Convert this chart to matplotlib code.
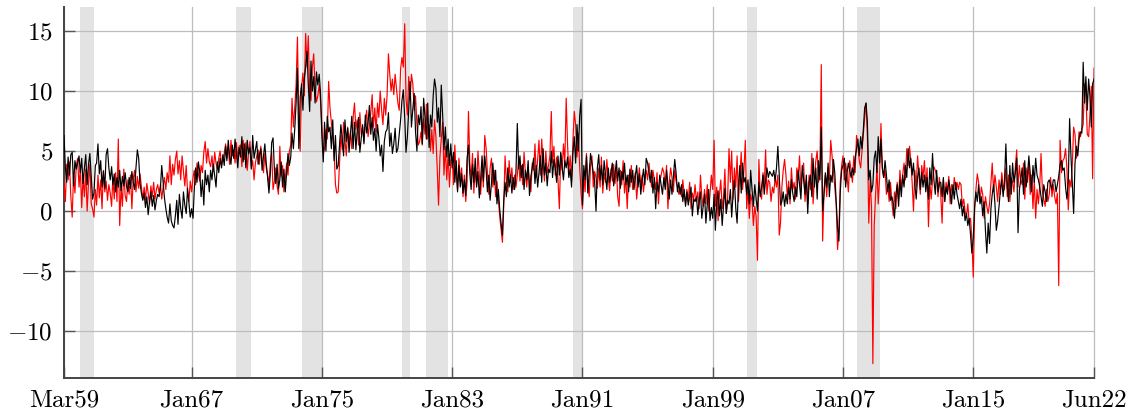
import pandas as pd
import matplotlib
matplotlib.use('Agg')
import matplotlib.pyplot as plt

# Series mensais, Mar/1959 a Jun/2022 (uma linha por ano)
black_vals = [
    6.3, 3.6, 2.4, 4.5, 3.0, 4.7, 4.9, 2.1, 4.2, 3.5,
    4.0, 4.6, 3.2, 4.4, 2.3, 3.6, 4.7, 2.2, 3.9, 4.8, 2.8, 1.0,
    1.5, 3.8, 4.0, 5.6, 3.1, 4.2, 2.0, 3.3, 1.9, 4.7, 5.2, 3.6,
    2.6, 3.7, 2.2, 3.1, 1.6, 2.8, 2.0, 3.4, 1.7, 2.9, 2.1, 3.2,
    2.1, 1.6, 2.8, 1.9, 3.3, 2.4, 1.8, 3.6, 5.1, 4.4, 2.3, 1.5,
    0.9, 1.5, 0.3, 1.2, -0.3, 0.8, 1.6, 0.4, 1.3, 0.1, 0.9, 1.4,
    1.2, 2.0, 3.8, 2.4, 1.1, 0.2, -0.5, -1.0, 0.6, -0.8, -1.2, -1.4,
    -0.4, 0.9, -1.1, 1.4, 0.2, -0.6, 1.6, 0.5, -0.2, 1.9, 0.7, -0.5,
    0.2, -0.6, 1.8, 3.6, 2.4, 4.1, 3.3, 1.2, 2.6, 0.5, 3.4, 2.2,
    3.0, 1.6, 3.4, 2.6, 3.9, 2.9, 2.0, 4.1, 3.2, 4.4, 3.6, 4.7,
    3.8, 5.4, 4.2, 5.9, 4.6, 3.9, 5.5, 4.4, 6.0, 4.8, 3.6, 5.3,
    4.5, 6.2, 4.1, 5.6, 3.6, 5.9, 4.8, 5.3, 3.5, 6.3, 4.4, 5.1,
    5.8, 3.9, 4.7, 5.2, 3.4, 4.6, 5.6, 4.0, 2.8, 1.5, 3.1, 5.7,
    6.1, 3.4, 2.3, 3.9, 1.9, 2.6, 4.1, 2.0, 3.5, 1.6, 3.2, 4.8,
    3.8, 4.5, 6.5, 5.2, 6.8, 9.0, 11.9, 5.2, 9.5, 10.6, 8.4, 11.0,
    12.0, 13.3, 10.6, 8.3, 12.5, 10.0, 11.2, 9.0, 11.6, 10.5, 11.4, 9.8,
    6.2, 4.1, 7.4, 5.0, 7.9, 6.6, 7.0, 5.2, 7.6, 4.2, 6.3, 3.5,
    3.8, 5.5, 7.2, 6.0, 4.6, 7.6, 5.8, 6.9, 4.9, 6.4, 7.9, 5.2,
    7.4, 5.1, 6.6, 7.8, 4.9, 6.1, 7.2, 5.6, 8.0, 6.5, 7.3, 8.8,
    6.4, 7.8, 5.9, 6.9, 5.0, 7.2, 6.1, 4.6, 5.5, 3.3, 5.8, 6.6,
    6.8, 8.2, 5.4, 6.5, 4.8, 5.6, 6.9, 4.9, 5.2, 6.4, 7.6, 9.2,
    10.1, 7.8, 4.9, 6.2, 8.4, 10.8, 7.0, 8.5, 9.8, 6.6, 5.0, 8.0,
    7.2, 8.7, 5.6, 9.4, 7.8, 6.0, 9.0, 5.3, 8.0, 7.0, 9.6, 11.0,
    10.2, 7.4, 8.6, 6.2, 10.5, 8.0, 5.1, 7.0, 4.5, 6.0, 3.8, 5.6,
    3.6, 4.9, 2.4, 4.2, 1.6, 3.8, 2.0, 3.1, 1.5, 2.6, 1.3, 4.4,
    5.5, 3.1, 1.8, 3.9, 2.4, 4.4, 2.0, 3.3, 1.1, 2.7, 4.6, 2.5,
    4.6, 3.4, 1.6, 3.0, 0.9, 2.4, 4.0, 2.2, 3.4, 0.6, 1.8, 0.2,
    -1.0, -2.0, 0.8, 2.4, 1.2, 3.6, 2.0, 3.0, 1.5, 2.8, 1.8, 3.2,
    7.3, 3.5, 4.6, 2.8, 3.9, 1.8, 3.4, 2.6, 4.2, 1.3, 2.9, 3.6,
    4.4, 2.3, 3.8, 2.0, 3.2, 4.6, 2.4, 5.2, 3.0, 4.0, 2.1, 3.5,
    3.2, 5.0, 2.8, 4.3, 3.6, 2.4, 4.6, 3.0, 4.9, 3.7, 2.6, 4.2,
    3.6, 4.5, 2.8, 3.5, 2.0, 4.8, 6.2, 4.0, 7.2, 5.0, 8.0, 9.3,
    0.5, 3.8, 2.6, 4.6, 1.5, 3.2, 4.8, 4.0, 3.2, 2.5, 0.0, 3.6,
    4.7, 2.6, 3.8, 2.2, 4.2, 3.0, 1.8, 3.6, 2.4, 3.2, 4.0, 2.1,
    3.1, 4.2, 2.5, 3.6, 1.9, 3.3, 2.6, 4.0, 2.2, 3.0, 1.6, 3.5,
    2.4, 3.4, 1.8, 2.9, 3.8, 2.0, 3.1, 1.4, 2.6, 3.5, 2.2, 4.4,
    4.0, 3.2, 2.4, 3.4, 1.5, 2.8, 0.2, 2.4, 1.6, 3.0, 2.2, 1.4,
    2.8, 1.8, 3.4, 2.2, 1.0, 2.6, 1.4, 2.9, 4.3, 3.2, 1.6, 2.4,
    1.4, 2.2, 0.8, 1.8, 0.4, 1.6, 0.5, 1.2, 2.0, -0.4, 1.0, 0.8,
    1.2, -0.3, 0.8, 1.6, -0.6, 0.4, 1.4, -1.0, 0.6, 1.8, -0.8, 0.3,
    -0.6, 1.4, -1.6, 0.8, 1.7, -0.4, 1.0, -1.2, 0.5, 1.9, -0.2, 0.9,
    0.6, 1.8, -0.5, 1.4, 2.6, 0.2, -1.0, 2.2, 3.8, 1.5, 4.0, 2.4,
    2.8, 1.4, 2.6, 0.6, 3.4, 1.8, 0.4, 2.2, 1.0, 0.0, 2.4, 1.2,
    2.0, 3.0, 1.4, 2.6, 3.6, 2.8, 3.3, 3.1, 2.9, 3.4, 2.5, 3.6,
    5.4, 3.0, 0.5, 0.8, 1.6, 0.4, 1.4, 0.6, 2.0, 1.0, 2.6, 1.5,
    0.8, 2.0, 1.2, 3.4, 2.2, 1.0, 3.8, 2.6, 1.4, 3.0, -0.2, 2.4,
    3.0, 1.2, 4.4, 2.0, 3.6, 1.0, 4.2, 2.6, 7.0, 0.0, 1.4, 3.2,
    2.0, 4.0, 1.2, 3.0, 2.4, 4.3, 3.2, 0.8, -1.3, -2.5, 1.6, 3.4,
    3.8, 4.4, 2.0, 3.2, 4.0, 3.4, 2.8, 3.6, 3.0, 4.4, 5.2, 6.0,
    4.6, 6.2, 5.2, 6.8, 8.6, 9.0, 7.4, 2.6, 3.4, 1.6, 2.2, 4.4,
    5.0, 3.2, 6.2, 4.0, 6.0, 3.6, 2.8, 4.2, 3.0, 1.6, 2.6, 0.9,
    1.2, 0.6, -0.6, 1.4, 2.2, 0.4, 2.6, 1.2, 3.0, 2.0, 3.8, 2.8,
    5.2, 3.6, 4.4, 3.0, 4.0, 2.2, 1.0, 2.8, 3.6, 1.8, 3.2, 2.0,
    3.0, 1.6, 2.8, 1.0, 3.6, 2.2, 4.8, 2.6, 1.4, 3.4, 1.6, 2.4,
    2.4, 1.2, 2.8, 0.8, 2.0, 1.4, 2.6, 1.8, 0.6, 2.2, 1.0, 2.4,
    1.4, 0.8, 0.2, 1.0, -0.4, 0.4, -0.8, -0.2, -1.2, -0.6, -2.0, -3.5,
    -2.2, 0.4, 1.6, 0.8, 2.2, 0.6, 1.2, -0.4, 0.8, -1.6, -3.5, -1.0,
    -2.7, 0.2, 1.4, 2.2, 0.6, -1.6, -0.8, 0.4, 1.8, 2.6, 1.2, 2.4,
    5.6, 2.2, 0.8, 3.8, 1.4, 4.0, 2.4, 3.2, 4.4, -1.8, 1.8, 2.6,
    3.6, 1.4, 4.2, 2.0, 3.0, 4.6, 3.2, 1.6, 3.8, 2.4, 4.4, 3.0,
    2.6, 2.0, 1.2, 0.4, 2.2, 1.6, 0.8, 2.4, 2.6, 2.2, 1.8, 2.6,
    2.6, 1.6, 2.2, 2.9, 3.9, 4.2, 3.4, 3.6, 2.0, 1.0, 2.4, 7.7,
    4.5, 2.2, -0.2, 4.0, 5.4, 4.6, 6.0, 6.6, 6.5, 12.4, 9.0, 11.2,
    8.4, 11.0, 9.6, 7.0, 10.6, 11.0,
]

red_vals = [
    2.4, 0.8, 3.9, 2.6, 4.1, 1.2, -0.5, 3.0, 1.5, 3.8,
    4.4, 2.0, 3.6, 0.3, 2.8, 1.2, 3.5, 0.0, 2.4, 3.9, 0.6, 0.2,
    -0.5, 1.8, 0.5, 3.0, 1.1, 2.6, 0.2, 3.4, 1.6, 2.5, 0.9, 2.2,
    1.5, 0.4, 2.8, 1.0, 3.2, 0.8, 6.0, -1.2, 2.1, 0.4, 3.5, 1.3,
    0.8, 2.6, 1.4, 3.0, 0.2, 2.7, 3.4, 1.6, 2.9, 1.9, 3.1, 2.0,
    1.0, 2.0, 0.9, 2.3, 1.5, 0.6, 2.1, 1.2, 2.4, 1.0, 1.8, 2.2,
    1.5, 2.2, 1.0, 2.0, 2.8, 1.8, 3.2, 2.4, 4.6, 2.2, 3.9, 3.0,
    4.3, 5.0, 3.1, 4.2, 2.6, 4.6, 3.3, 2.1, 3.8, 1.6, 0.8, 2.5,
    1.6, 2.8, 3.4, 2.2, 4.0, 3.1, 2.5, 3.8, 3.2, 4.9, 5.8, 4.0,
    5.2, 4.1, 3.7, 4.6, 3.3, 4.9, 4.0, 3.5, 4.4, 5.0, 3.8, 4.3,
    4.8, 5.6, 4.4, 5.3, 3.9, 5.9, 4.6, 5.1, 4.0, 5.7, 4.3, 5.4,
    5.5, 3.7, 5.9, 4.3, 5.7, 3.4, 4.9, 5.8, 3.6, 4.2, 2.6, 4.0,
    4.6, 5.1, 3.9, 5.4, 4.3, 3.2, 4.8, 3.6, 3.0, 2.2, 4.0, 4.9,
    1.8, 2.5, 3.6, 2.1, 1.4, 5.4, 2.9, 3.8, 1.6, 2.7, 4.0, 3.0,
    5.0, 5.5, 9.4, 7.0, 8.6, 10.5, 14.5, 7.5, 5.0, 10.3, 11.5, 9.6,
    14.8, 12.0, 14.6, 10.0, 9.2, 12.0, 13.1, 10.2, 9.1, 9.6, 10.5, 9.2,
    7.0, 4.8, 5.2, 6.8, 6.0, 10.8, 8.6, 7.4, 6.2, 5.0, 2.2, 1.5,
    1.6, 4.0, 6.3, 5.1, 7.4, 6.0, 4.6, 7.0, 5.6, 6.6, 5.2, 7.8,
    9.0, 6.8, 7.6, 5.5, 8.2, 6.4, 7.0, 5.8, 7.4, 8.4, 6.2, 7.1,
    8.2, 9.7, 7.0, 8.6, 6.6, 9.0, 7.8, 10.0, 8.4, 7.2, 9.4, 8.0,
    9.6, 13.1, 11.5, 10.0, 11.0, 9.7, 11.4, 10.2, 9.0, 8.4, 11.8, 12.8,
    12.0, 15.6, 9.4, 8.0, 11.2, 9.2, 11.4, 10.6, 8.4, 9.6, 7.2, 5.5,
    5.8, 6.6, 5.5, 7.7, 6.4, 8.9, 6.0, 7.2, 5.0, 6.8, 4.8, 7.6,
    6.2, 3.4, 0.5, 4.5, 6.0, 7.4, 3.0, 5.4, 2.6, 4.8, 2.0, 4.2,
    4.6, 2.2, 5.5, 3.0, 1.8, 4.4, 2.5, 3.6, 1.2, 3.0, 0.8, 2.4,
    8.3, 4.0, 2.6, 4.8, 1.5, 3.6, 2.2, 5.0, 3.0, 1.4, 3.8, 2.0,
    6.3, 5.2, 3.2, 1.4, 3.6, 4.4, 2.0, 3.4, 1.2, 2.5, 1.0, -0.4,
    -1.5, -2.6, 0.3, 4.6, 2.5, 1.6, 4.2, 2.4, 3.6, 1.8, 3.0, 2.0,
    3.0, 4.4, 2.5, 3.8, 2.2, 4.9, 3.2, 2.0, 3.6, 2.4, 1.6, 4.0,
    3.4, 5.6, 2.8, 4.3, 5.9, 3.0, 6.0, 4.0, 2.5, 5.0, 3.2, 3.8,
    4.6, 8.3, 4.0, 5.4, 3.0, 4.5, 2.6, 0.2, 4.8, 3.4, 5.6, 4.0,
    9.4, 5.5, 3.2, 4.6, 2.5, 5.8, 8.3, 7.2, 4.5, 6.5, 3.6, 1.5,
    0.2, 3.0, 1.6, 4.8, 2.4, 1.2, 3.8, 4.6, 2.0, 3.3, 2.8, 1.9,
    3.6, 2.0, 4.5, 1.5, 3.2, 2.4, 4.3, 2.8, 1.7, 3.5, 2.5, 3.9,
    2.3, 3.6, 1.2, 0.4, 3.4, 2.2, 4.2, 1.5, 2.8, 0.2, 3.0, 2.0,
    3.8, 1.8, 2.6, 3.2, 1.0, 2.4, 3.6, 2.0, 3.0, 1.6, 2.8, 3.4,
    2.6, 4.0, 3.0, 2.0, 3.4, 2.6, 1.8, 3.2, 0.6, 2.4, 3.0, 3.6,
    3.2, 2.0, 3.8, 0.2, 2.4, 3.6, 2.8, 1.6, 3.4, 2.5, 2.0, 1.4,
    2.0, 1.2, 2.6, 1.4, 0.6, 1.8, 0.8, 2.4, 0.2, 1.5, 1.0, 2.2,
    0.8, 1.6, 0.2, 3.0, 1.2, 0.4, 1.8, 0.6, 2.2, 0.0, 1.4, 3.0,
    1.8, 5.9, 0.4, 2.0, -0.8, 1.4, 2.6, 0.2, 1.2, 3.5, -0.2, 1.0,
    5.2, 2.4, 5.0, 1.0, 3.6, 2.0, 4.6, 0.8, 3.0, 4.9, 1.8, 3.4,
    5.9, 0.2, 2.0, -0.6, 1.4, 0.8, -1.2, 0.4, -0.5, -4.1, 4.3, 1.5,
    1.0, 3.2, 2.0, 5.1, 1.4, 2.6, 2.4, 0.8, 2.0, 1.5, 2.8, 2.0,
    3.0, -2.0, -1.0, 2.0, 3.4, 4.3, 3.0, 1.2, 2.5, 0.6, 3.6, 1.8,
    2.4, 1.0, 3.6, 2.8, 4.6, 1.6, 3.2, 4.0, 0.8, 2.6, 0.6, 3.0,
    1.8, 4.8, 0.6, 2.8, 4.2, 5.0, 2.4, 3.4, 12.2, -2.5, 1.6, 3.0,
    1.2, 3.6, 2.6, 5.9, 4.6, 3.2, 2.0, 0.6, -3.2, -1.6, 2.4, 3.8,
    4.6, 2.6, 4.0, 3.0, 1.6, 4.2, 3.4, 2.4, 4.6, 3.2, 6.3, 5.4,
    4.2, 3.6, 5.0, 6.4, 7.8, 9.0, 6.2, -1.0, 2.6, 0.4, -12.7, -1.2,
    1.4, 3.6, 0.6, 2.8, 7.3, 3.6, 2.8, 3.4, 1.4, 2.2, 0.8, 2.4,
    0.8, -0.4, 1.6, 0.2, 2.4, 1.0, 3.4, 1.8, 3.0, 4.0, 2.6, 5.2,
    3.8, 5.4, 4.2, 2.4, 0.0, 3.4, 2.0, 4.6, 3.0, 1.4, 3.8, 2.8,
    4.2, 2.0, 3.6, -1.3, 2.4, 1.0, 2.6, 3.7, 3.4, 2.9, 1.2, 2.8,
    1.4, -1.0, 2.6, 0.8, 2.4, 1.6, 2.9, 0.6, 2.2, 1.4, 2.8, 1.8,
    2.4, 1.8, 2.4, 2.2, 0.4, 1.0, 0.0, -0.4, 0.6, -1.0, -0.6, -2.4,
    -5.5, 0.2, 1.8, 3.1, 2.4, 0.8, 2.0, 1.4, -0.6, 1.2, 0.4, -0.2,
    0.6, 2.4, 4.0, 1.6, 3.0, 2.0, 0.8, 2.6, 1.4, 3.2, 2.2, 1.8,
    3.6, 1.2, 3.0, 0.8, 2.8, 2.4, 1.6, 3.6, 5.1, 2.0, 3.8, 2.6,
    2.2, 4.0, 1.0, 3.6, 2.4, 4.0, 1.4, 3.0, 0.2, 2.6, -0.6, 1.8,
    0.6, 2.2, 4.8, 1.6, 1.0, 0.4, 1.8, 0.8, 1.4, 2.8, 1.2, 2.2,
    1.2, 0.6, 1.5, -6.2, 5.9, 3.2, 4.2, 4.4, 5.2, 3.6, 0.1, 2.6,
    2.0, 4.0, 7.0, 6.4, 4.4, 5.0, 6.6, 6.2, 6.8, 7.2, 10.6, 9.8,
    6.4, 6.2, 8.0, 10.4, 2.7, 11.9,
]

# Periodos sombreados (recessoes)
recessions = [
    ('1960-03', '1961-01'), ('1969-10', '1970-09'), ('1973-10', '1975-01'),
    ('1979-12', '1980-06'), ('1981-06', '1982-10'), ('1990-06', '1991-01'),
    ('2001-02', '2001-10'), ('2007-11', '2009-04'),
]

tick_dates = ['1959-03', '1967-01', '1975-01', '1983-01', '1991-01',
              '1999-01', '2007-01', '2015-01', '2022-06']
tick_labels = ['Mar59', 'Jan67', 'Jan75', 'Jan83', 'Jan91',
               'Jan99', 'Jan07', 'Jan15', 'Jun22']
y_ticks = [-10, -5, 0, 5, 10, 15]

plt.rcParams['font.family'] = 'serif'
plt.rcParams['font.serif'] = ['cmr10']
plt.rcParams['mathtext.fontset'] = 'cm'
plt.rcParams['axes.formatter.use_mathtext'] = True
plt.rcParams['font.size'] = 18

dates = pd.date_range('1959-03-01', periods=len(black_vals), freq='MS')

fig = plt.figure(figsize=(11.35, 4.17), dpi=100)
ax = fig.add_axes([64 / 1135, 1 - 378 / 417, 1030 / 1135, 371 / 417])

for start, end in recessions:
    ax.axvspan(pd.Timestamp(start), pd.Timestamp(end), color='#e3e3e3', lw=0, zorder=0)

ax.plot(dates, red_vals, color='red', lw=0.85, zorder=3)
ax.plot(dates, black_vals, color='black', lw=0.85, zorder=4)

ax.set_xlim(dates[0], dates[-1])
ax.set_ylim(-13.9, 17.0)
ax.set_xticks(pd.to_datetime(tick_dates))
ax.set_xticklabels(tick_labels)
ax.set_yticks(y_ticks)

ax.set_axisbelow(True)
ax.grid(True, color='#bdbdbd', lw=0.9)
# a ultima linha vertical (Jun22) fica na borda, nao cortar
for gl in ax.get_xgridlines():
    gl.set_clip_on(False)
for side in ['top', 'right']:
    ax.spines[side].set_visible(False)
for side in ['left', 'bottom']:
    ax.spines[side].set_color('#444444')
    ax.spines[side].set_linewidth(1.4)
ax.tick_params(direction='in', length=8, width=1, color='#555555', pad=8)

fig.savefig('out.png', dpi=100)
